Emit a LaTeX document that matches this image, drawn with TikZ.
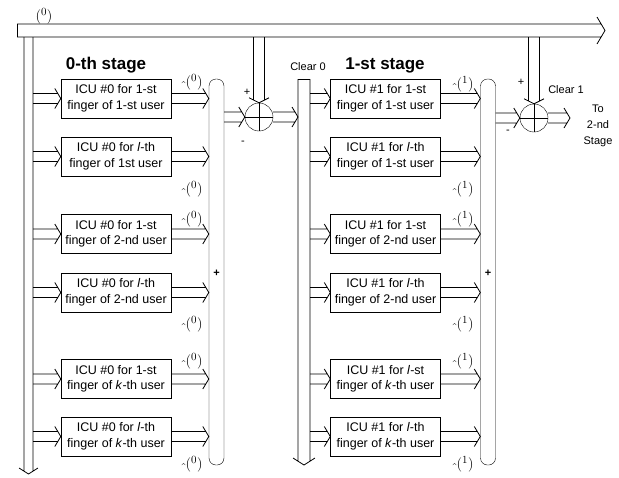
\documentclass[tikz,border=0pt]{standalone}
\usepackage{fontspec}
\setmainfont{Liberation Sans}
\usetikzlibrary{calc}

\begin{document}
\begin{tikzpicture}[
  x=1pt, y=-1pt,
  holw/.store in=\holw, holh/.store in=\holh,
  holl/.store in=\holl, holm/.store in=\holm,
  holw=5pt, holh=10pt, holl=6pt, holm=3pt,
  icu/.style   = {draw, minimum width=110pt, minimum height=39pt, align=center,
                  inner sep=1pt, font=\fontsize{12.5}{15.5}\selectfont},
  bar/.style   = {draw, rounded corners=7pt, minimum width=15pt,
                  minimum height=386pt, inner sep=0pt},
  adder/.style = {draw, circle, minimum size=28pt, inner sep=0pt,
                  path picture={\draw (path picture bounding box.north) -- (path picture bounding box.south)
                                      (path picture bounding box.west) -- (path picture bounding box.east);}},
  hol/.style   = {line width=0.8pt, to path={let \p1=(\tikztostart), \p2=(\tikztotarget) in
                    ($(\p1)!\holw!90:(\p2)$) -- ($(\p2)!\holm!(\p1)!\holw!-90:(\p1)$)
                    ($(\p2)!\holl!(\p1)!\holh!-90:(\p1)$) -- (\p2) -- ($(\p2)!\holl!(\p1)!\holh!90:(\p1)$)
                    ($(\p2)!\holm!(\p1)!\holw!90:(\p1)$) -- ($(\p1)!\holw!-90:(\p2)$)}},
  ttl/.style   = {font=\bfseries\fontsize{17}{20}\selectfont},
  lbl/.style   = {font=\fontsize{11}{12}\selectfont, inner sep=0pt},
  est/.style   = {font=\fontsize{15}{16}\selectfont, inner sep=0pt},
]
\useasboundingbox (0,0) rectangle (619,477);

% ---------------- buses -------------------------------------------------
\coordinate (tl)   at (17,30.5);
\coordinate (tr)   at (605,30.5);
\coordinate (aTop) at (28.5,37);
\coordinate (aBot) at (28.5,474);
\coordinate (bTop) at (304,79);
\coordinate (bBot) at (304,465);

\draw[hol, holw=6.5pt, holh=13.5pt, holl=8pt, holm=3.9pt] (tl) to (tr);
\draw[line width=0.8pt] ([yshift=-6.5pt]tl) -- ([yshift=6.5pt]tl);
\draw[hol, holw=4.5pt, holh=9.5pt, holl=6pt, holm=2.8pt] (aTop) to (aBot);
\draw[hol, holw=6pt, holh=11pt, holl=7pt, holm=3.8pt] (bTop) to (bBot);
\draw[line width=0.8pt] ([xshift=-6pt]bTop) -- ([xshift=6pt]bTop);

% ---------------- 0-th stage --------------------------------------------
\node[ttl] (st0) at (106,65) {0-th stage};

\node[icu] (icuA1) at (116,98.5)  {ICU \#0 for 1-st\\finger of 1-st user};
\node[icu] (icuA2) at (116,156.5) {ICU \#0 for \textit{l}-th\\finger of 1st user};
\node[icu] (icuA3) at (116,234)   {ICU \#0 for 1-st\\finger of 2-nd user};
\node[icu] (icuA4) at (116,292.5) {ICU \#0 for \textit{l}-th\\finger of 2-nd user};
\node[icu] (icuA5) at (116,379)   {ICU \#0 for 1-st\\finger of \textit{k}-th user};
\node[icu] (icuA6) at (116,436.5) {ICU \#0 for \textit{l}-th\\finger of \textit{k}-th user};

\node[bar] (barA) at (216.5,272) {};
\node[lbl] at (barA.center |- 0,273) {\textbf{+}};

\node[adder] (addA) at (259,117) {};

% ---------------- 1-st stage --------------------------------------------
\node[ttl] (st1) at (385,65) {1-st stage};
\node[lbl] (clr0) at (308,67) {Clear 0};

\node[icu] (icuB1) at (385.5,98.5)  {ICU \#1 for 1-st\\finger of 1-st user};
\node[icu] (icuB2) at (385.5,156.5) {ICU \#1 for \textit{l}-th\\finger of 1-st user};
\node[icu] (icuB3) at (385.5,234)   {ICU \#1 for 1-st\\finger of 2-nd user};
\node[icu] (icuB4) at (385.5,292.5) {ICU \#1 for \textit{l}-th\\finger of 2-nd user};
\node[icu] (icuB5) at (385.5,379)   {ICU \#1 for \textit{l}-st\\finger of \textit{k}-th user};
\node[icu] (icuB6) at (385.5,436.5) {ICU \#1 for \textit{l}-th\\finger of \textit{k}-th user};

\node[bar] (barB) at (488,272) {};
\node[lbl] at (barB.center |- 0,273) {\textbf{+}};

\node[adder] (addB) at (534,118) {};
\node[lbl] (clr1) at (566,90) {Clear 1};
\node[lbl, align=center, font=\fontsize{11}{16}\selectfont] (nxt) at (598,126) {To\\2-nd\\Stage};

% ---------------- estimates ---------------------------------------------
\node[est] at (44,16) {$({}^{0})$};
\foreach \y in {83,190,220,325,362,465}
  \node[est] at (192,\y) {\raisebox{-0.7ex}{$\hat{\ }$}$({}^{0})$};
\foreach \y in {85,190,220,325,362,465}
  \node[est] at (463,\y) {\raisebox{-0.7ex}{$\hat{\ }$}$({}^{1})$};

% ---------------- edges -------------------------------------------------
\foreach \u in {icuA1,icuA2,icuA3,icuA4,icuA5,icuA6}{
  \coordinate (in)  at (33,0 |- \u.west);
  \coordinate (out) at (barA.west |- \u.east);
  \draw[hol] (in) to (\u.west);
  \draw[hol] (\u.east) to (out);
}
\foreach \u in {icuB1,icuB2,icuB3,icuB4,icuB5,icuB6}{
  \coordinate (in)  at (310,0 |- \u.west);
  \coordinate (out) at (barB.west |- \u.east);
  \draw[hol] (in) to (\u.west);
  \draw[hol] (\u.east) to (out);
}

\coordinate (sumA) at (barA.east |- addA.west);
\coordinate (toB)  at (298,0 |- addA.east);
\coordinate (sumB) at (barB.east |- addB.west);
\coordinate (toC)  at (570,0 |- addB.east);
\coordinate (clrA) at (addA.north |- 0,37);
\coordinate (clrB) at (addB.north |- 0,37);

\draw[hol] (sumA) to (addA.west);
\draw[hol] (addA.east) to (toB);
\draw[hol] (sumB) to (addB.west);
\draw[hol] (addB.east) to (toC);

\draw[hol, holw=5.5pt, holm=2.8pt, holl=5pt] (clrA) to (addA.north);
\draw[hol, holw=5.5pt, holm=2.8pt, holl=5pt] (clrB) to (addB.north);

\node[lbl] at (247,92) {+};
\node[lbl] at (243,143) {-};
\node[lbl] at (521,82) {+};
\node[lbl] at (508,132) {-};

\end{tikzpicture}
\end{document}
